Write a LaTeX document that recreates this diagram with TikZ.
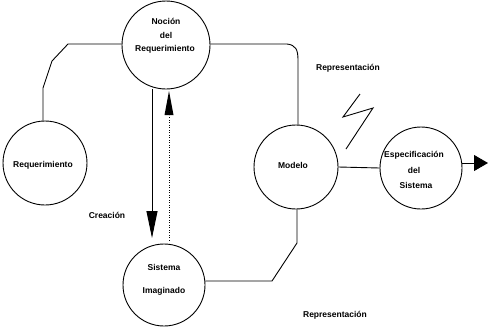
\documentclass[tikz,border=0pt]{standalone}
\usepackage{fontspec}
\setmainfont{Liberation Sans}
\usetikzlibrary{arrows.meta}
\tikzset{
  bubble/.style={circle,draw,line width=0.9pt,inner sep=0pt},
  txt/.style={font=\bfseries\fontsize{8.5}{9}\selectfont,inner sep=0pt},
  conn/.style={line width=0.9pt},
}
\begin{document}
\begin{tikzpicture}[x=1pt,y=-1pt]
\useasboundingbox (0,0) rectangle (488,330);
\node[bubble,minimum size=88pt] (noc) at (166,45) {};
\node[txt] (noc1) at (166,21) {Noción};
\node[txt] (noc2) at (166,35) {del};
\node[txt] (noc3) at (165,49) {Requerimiento};
\node[bubble,minimum size=84pt] (req) at (45,163) {};
\node[txt] (req1) at (43,165) {Requerimiento};
\node[bubble,minimum size=84pt] (mod) at (296,167) {};
\node[txt] (mod1) at (293,165) {Modelo};
\node[bubble,minimum size=82pt] (esp) at (421,168) {};
\node[txt] (esp1) at (414,155) {Especificación};
\node[txt] (esp2) at (414,170) {del};
\node[txt] (esp3) at (416,185) {Sistema};
\node[bubble,minimum size=82pt] (sis) at (164,285) {};
\node[txt] (sis1) at (164,267) {Sistema};
\node[txt] (sis2) at (164,291) {Imaginado};
\node[txt] (rep1) at (348,68) {Representación};
\node[txt] (rep2) at (335,315) {Representación};
\node[txt] (cre) at (107,215) {Creación};
\coordinate (end) at (488,163);
% left connector
\draw[conn] (noc.west |- 0,44) -- (68,44) -- (52,61) -- (43,88) -- (req.north -| 43,0);
% right top connector
\draw[conn] (noc.east |- 0,44) -- (287,44) .. controls (296,45) and (298,50) .. (298,60) -- (mod.north -| 298,0);
% bottom connector
\draw[conn] (mod.south -| 297,0) -- (297,243) -- (272,281) -- (sis.east |- 0,281);
% modelo to especificacion
\draw[conn] (mod.east) -- (esp.west);
\draw[conn,-{Triangle[length=14pt,width=16pt]}] (esp.east |- 0,163) -- (end);
% creation arrows
\coordinate (dtip) at (152,238);
\draw[conn,-{Triangle[length=27pt,width=11pt]}] (noc.south -| 152,0) -- (dtip);
\coordinate (ubase) at (169,240);
\coordinate (utip) at (169,91);
\draw[line width=0.5pt,dotted] (ubase) -- (169,115);
\fill (utip) -- (164.5,115) -- (173.5,115) -- cycle;
% lightning
\draw[conn] (360,94) -- (343,117) -- (373,108) -- (346,149);
\end{tikzpicture}
\end{document}
